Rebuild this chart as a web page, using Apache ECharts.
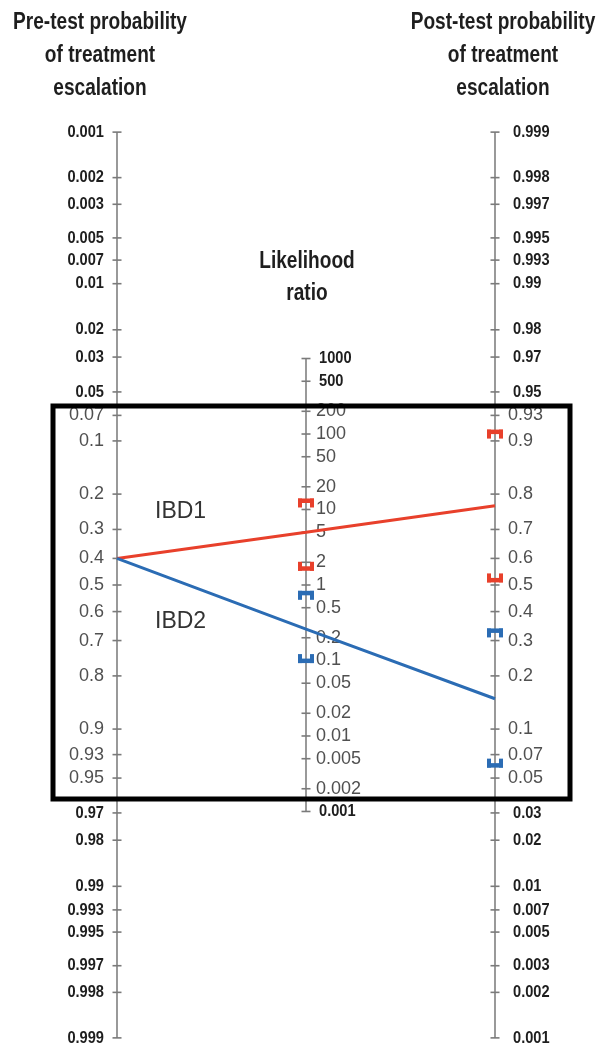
<!DOCTYPE html>
<html>
<head>
<meta charset="utf-8">
<script src="https://cdn.jsdelivr.net/npm/echarts@6/dist/echarts.min.js"></script>
<style>
  html, body { margin: 0; padding: 0; background: #fff; }
  #chart { width: 606px; height: 1051px; }
</style>
</head>
<body>
<div id="chart"></div>
<script>
// Fagan nomogram: pre-test probability, likelihood ratio, post-test probability
const preTicks = [0.001, 0.002, 0.003, 0.005, 0.007, 0.01, 0.02, 0.03, 0.05, 0.07, 0.1, 0.2, 0.3, 0.4, 0.5, 0.6, 0.7, 0.8, 0.9, 0.93, 0.95, 0.97, 0.98, 0.99, 0.993, 0.995, 0.997, 0.998, 0.999];
const lrTicks = [1000, 500, 200, 100, 50, 20, 10, 5, 2, 1, 0.5, 0.2, 0.1, 0.05, 0.02, 0.01, 0.005, 0.002, 0.001];
const postTicks = [0.999, 0.998, 0.997, 0.995, 0.993, 0.99, 0.98, 0.97, 0.95, 0.93, 0.9, 0.8, 0.7, 0.6, 0.5, 0.4, 0.3, 0.2, 0.1, 0.07, 0.05, 0.03, 0.02, 0.01, 0.007, 0.005, 0.003, 0.002, 0.001];

// Two tests applied to the same pre-test probability
const testNames = ['IBD1', 'IBD2'];
const preTest = [0.4, 0.4];
const likelihoodRatio = [5.0, 0.26];
const postTest = [0.77, 0.15];
// Confidence limits [upper, lower]
const lrCI = [[12.2, 1.77], [0.73, 0.106]];
const postCI = [[0.909, 0.527], [0.325, 0.062]];

const colors = ['#e8402b', '#2b6cb4'];

// Nomogram scales: left = logit(pre), middle = -ln(LR)/2, right = -logit(post)
const logit = p => Math.log(p / (1 - p));
const pos = {
  pre: p => logit(p),
  lr: r => -Math.log(r) / 2,
  post: p => -logit(p)
};
// Region framed by the black box gets the lighter regular type
const isInner = y => y > -2.8 && y < 3.3;

const tickData = [];
preTicks.forEach(v => tickData.push({ value: [0, pos.pre(v)], text: String(v), side: 'left' }));
lrTicks.forEach(v => tickData.push({ value: [1, pos.lr(v)], text: String(v), side: 'right', mid: true }));
postTicks.forEach(v => tickData.push({ value: [2, pos.post(v)], text: String(v), side: 'right' }));

// Condensed bold look: bold sans squeezed horizontally
const boldFont = 'bold 17px "Liberation Sans", Arial, sans-serif';
const boldSqueeze = 0.86;
const lightFont = '18px "Liberation Sans", Arial, sans-serif';

const axisLines = [
  [[0, pos.pre(preTicks[0])], [0, pos.pre(preTicks[preTicks.length - 1])]],
  [[1, pos.lr(lrTicks[0])], [1, pos.lr(lrTicks[lrTicks.length - 1])]],
  [[2, pos.post(postTicks[0])], [2, pos.post(postTicks[postTicks.length - 1])]]
];

const series = [];
axisLines.forEach(d => series.push({
  type: 'line', data: d, symbol: 'none', silent: true,
  lineStyle: { color: '#808080', width: 1.6 }, z: 1
}));

series.push({
  type: 'custom',
  data: tickData,
  silent: true,
  z: 2,
  renderItem: (params, api) => {
    const item = tickData[params.dataIndex];
    const pt = api.coord([api.value(0), api.value(1)]);
    const inner = isInner(item.value[1]);
    let dx;
    if (item.side === 'left') dx = -13;
    else if (item.mid) dx = inner ? 10 : 13;
    else dx = inner ? 13 : 18;
    return {
      type: 'group',
      children: [
        { type: 'line', shape: { x1: pt[0] - 4.5, y1: pt[1], x2: pt[0] + 4.5, y2: pt[1] },
          style: { stroke: '#7a7a7a', lineWidth: 1.6 } },
        { type: 'text', x: pt[0] + dx, y: pt[1], scaleX: inner ? 1 : boldSqueeze,
          style: {
            text: item.text, x: 0, y: 0,
            align: item.side === 'left' ? 'right' : 'left', verticalAlign: 'middle',
            font: inner ? lightFont : boldFont,
            fill: inner ? '#505050' : '#1e1e1e'
        } }
      ]
    };
  }
});

// Main nomogram lines
testNames.forEach((name, i) => series.push({
  type: 'line', name,
  data: [[0, pos.pre(preTest[i])], [1, pos.lr(likelihoodRatio[i])], [2, pos.post(postTest[i])]],
  symbol: 'none', silent: true,
  lineStyle: { color: colors[i], width: 3 }, z: 3
}));

// Confidence limit brackets on the LR and post-test axes
const ciData = [];
testNames.forEach((name, i) => {
  ciData.push({ value: [1, pos.lr(lrCI[i][0])], kind: 'upper', c: colors[i] });
  ciData.push({ value: [1, pos.lr(lrCI[i][1])], kind: 'lower', c: colors[i] });
  ciData.push({ value: [2, pos.post(postCI[i][0])], kind: 'upper', c: colors[i] });
  ciData.push({ value: [2, pos.post(postCI[i][1])], kind: 'lower', c: colors[i] });
});
series.push({
  type: 'custom', data: ciData, silent: true, z: 4,
  renderItem: (params, api) => {
    const item = ciData[params.dataIndex];
    const p = api.coord([api.value(0), api.value(1)]);
    const w = 16, h = 9, t = 4.5, lw = 4;
    const up = item.kind === 'upper';
    const barY = up ? p[1] - h / 2 : p[1] + h / 2 - t;
    const legY = p[1] - h / 2;
    return {
      type: 'group',
      children: [
        { type: 'rect', shape: { x: p[0] - w / 2, y: barY, width: w, height: t }, style: { fill: item.c } },
        { type: 'rect', shape: { x: p[0] - w / 2, y: legY, width: lw, height: h }, style: { fill: item.c } },
        { type: 'rect', shape: { x: p[0] + w / 2 - lw, y: legY, width: lw, height: h }, style: { fill: item.c } }
      ]
    };
  }
});

const headFont = 'bold 23px "Liberation Sans", Arial, sans-serif';
const headSqueeze = 0.83;
const heading = (text, cx, top, lh) => ({
  type: 'text', x: cx, y: top, scaleX: headSqueeze,
  style: { text, x: 0, y: 0, align: 'center', verticalAlign: 'top',
           font: headFont, lineHeight: lh, fill: '#1e1e1e' }
});

const chart = echarts.init(document.getElementById('chart'), null, { renderer: 'canvas' });
chart.setOption({
  animation: false,
  backgroundColor: '#ffffff',
  grid: { left: 117, right: 111, top: 126, bottom: 7 },
  xAxis: { type: 'value', min: 0, max: 2, show: false },
  yAxis: { type: 'value', min: -7, max: 7, inverse: true, show: false },
  series,
  graphic: [
    heading('Pre-test probability\nof treatment\nescalation', 100, 6, 33),
    heading('Post-test probability\nof treatment\nescalation', 503, 6, 33),
    heading('Likelihood\nratio', 307, 246, 32),
    { type: 'text', x: 155, y: 500, style: {
        text: testNames[0], x: 0, y: 0, font: '23px "Liberation Sans", Arial, sans-serif', fill: '#333' } },
    { type: 'text', x: 155, y: 610, style: {
        text: testNames[1], x: 0, y: 0, font: '23px "Liberation Sans", Arial, sans-serif', fill: '#333' } },
    { type: 'rect', shape: { x: 53, y: 406, width: 517, height: 393 }, z: 10,
      style: { fill: 'none', stroke: '#000', lineWidth: 5 } }
  ]
});
</script>
</body>
</html>
